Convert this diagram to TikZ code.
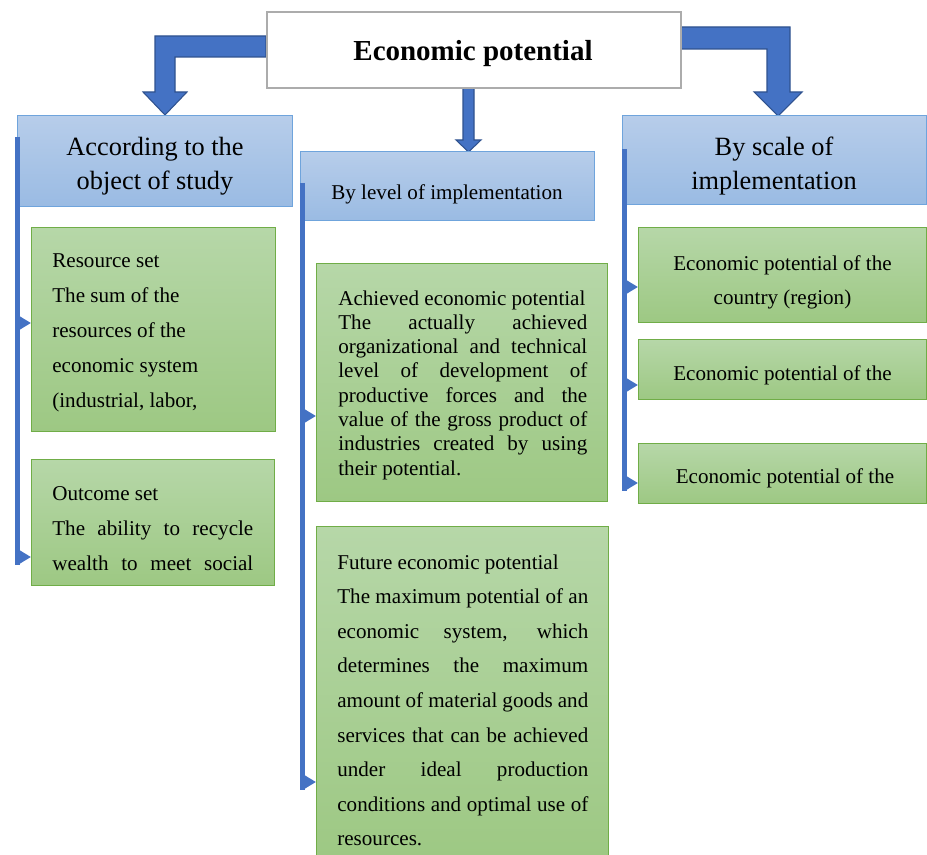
\documentclass[tikz,border=0pt]{standalone}
\usepackage{fontspec}
\setmainfont{Liberation Serif}
\usetikzlibrary{arrows.meta}

\definecolor{busblue}{HTML}{4472C4}
\definecolor{arrowedge}{HTML}{2F528F}
\definecolor{hdrtop}{HTML}{B7CDEA}
\definecolor{hdrbot}{HTML}{9ABBE3}
\definecolor{hdredge}{HTML}{6FA4DC}
\definecolor{grntop}{HTML}{B6D7A8}
\definecolor{grnbot}{HTML}{9DC883}
\definecolor{grnedge}{HTML}{70AD47}

% one stretched line of a justified paragraph, and one plain line
% (the font's own interword glue, not the fixed one of align=left)
\newcommand{\jline}[2]{\makebox[#1][s]{\spaceskip=0pt\xspaceskip=0pt #2}}
\newcommand{\pline}[1]{\mbox{\spaceskip=0pt\xspaceskip=0pt #1}}

\begin{document}
\begin{tikzpicture}[x=0.02cm, y=-0.02cm,
    wh/.style 2 args={minimum width=#1*0.02cm, minimum height=#2*0.02cm},
    hdr/.style={draw=hdredge, line width=0.6pt, top color=hdrtop, bottom color=hdrbot, anchor=north west, inner sep=0pt},
    grn/.style={draw=grnedge, line width=0.8pt, top color=grntop, bottom color=grnbot, anchor=north west, inner sep=0pt},
    body/.style={anchor=base west, inner sep=0pt, align=left},
    mid/.style={anchor=base, inner sep=0pt, align=center, text width=6cm},
    bus/.style={line width=0.1cm, draw=busblue},
    tip/.style={-{Triangle[length=0.25cm, width=0.28cm]}},
    blockarrow/.style={fill=busblue, draw=arrowedge, line width=0.6pt, line join=miter}]
  \useasboundingbox (0,0) rectangle (927,855);

  %% block arrows from the top box
  \filldraw[blockarrow] (266,36) -- (155,36) -- (155,92) -- (143,92) -- (165,115) -- (187,92) -- (175,92) -- (175,57) -- (266,57) -- cycle;
  \filldraw[blockarrow] (680,27) -- (790,27) -- (790,92) -- (802,92) -- (778,116) -- (754,92) -- (767,92) -- (767,49) -- (680,49) -- cycle;
  \filldraw[blockarrow] (463,87) -- (474,87) -- (474,140) -- (481,140) -- (468.5,152) -- (456,140) -- (463,140) -- cycle;

  %% top box
  \node[draw=gray!65, line width=1.4pt, fill=white, anchor=north west, wh={414}{76}] (ep) at (266,11) {};
  \node[font=\fontsize{16.5}{20}\selectfont\bfseries, anchor=base] (epT) at (473,61) {Economic potential};

  %% headers
  \node[hdr, wh={275}{91}] (obj) at (17,115) {};
  \node[mid, font=\fontsize{15}{19.8}\selectfont] (objT) at (155,155) {\pline{According to the}\\\pline{object of study}};
  \node[hdr, wh={294}{69}] (lvl) at (300,151) {};
  \node[font=\fontsize{12}{14}\selectfont, anchor=base] (lvlT) at (447,199) {By level of implementation};
  \node[hdr, wh={304}{89}] (scl) at (622,115) {};
  \node[mid, font=\fontsize{15}{19.8}\selectfont] (sclT) at (774,155) {\pline{By scale of}\\\pline{implementation}};

  %% left column
  \node[grn, wh={244}{204}] (res) at (31,227) {};
  \node[body, text width=4.02cm, font=\fontsize{12}{20}\selectfont] (resT) at (52,267)
    {\pline{Resource set}\\\pline{The sum of the}\\\pline{resources of the}\\\pline{economic system}\\\pline{(industrial, labor,}};
  \node[grn, wh={243}{126}] (out) at (31,459) {};
  \node[body, text width=4.02cm, font=\fontsize{12}{20}\selectfont] (outT) at (52,500)
    {\pline{Outcome set}\\\jline{4.02cm}{The ability to recycle}\\\jline{4.02cm}{wealth to meet social}};

  %% middle column
  \node[grn, wh={291}{238}] (ach) at (316,263) {};
  \node[body, text width=4.98cm, font=\fontsize{12}{13.83}\selectfont] (achT) at (338,305)
    {\pline{Achieved economic potential}\\\jline{4.98cm}{The actually achieved}\\\jline{4.98cm}{organizational and technical}\\
     \jline{4.98cm}{level of development of}\\\jline{4.98cm}{productive forces and the}\\\jline{4.98cm}{value of the gross product of}\\
     \jline{4.98cm}{industries created by using}\\\pline{their potential.}};
  \node[grn, wh={292}{335}] (fut) at (316,526) {};
  \node[body, text width=5.02cm, font=\fontsize{12}{19.67}\selectfont] (futT) at (337,569.3)
    {\pline{Future economic potential}\\\jline{5.02cm}{The maximum potential of an}\\\jline{5.02cm}{economic system, which}\\
     \jline{5.02cm}{determines the maximum}\\\jline{5.02cm}{amount of material goods and}\\\jline{5.02cm}{services that can be achieved}\\
     \jline{5.02cm}{under ideal production}\\\jline{5.02cm}{conditions and optimal use of}\\\pline{resources.}};

  %% right column
  \node[grn, wh={288}{95}] (sc1) at (638,227) {};
  \node[mid, font=\fontsize{12}{19.8}\selectfont] (sc1T) at (782.5,270) {\pline{Economic potential of the}\\\pline{country (region)}};
  \node[grn, wh={288}{60}] (sc2) at (638,339) {};
  \node[font=\fontsize{12}{14}\selectfont, anchor=base] (sc2T) at (782.5,380) {Economic potential of the};
  \node[grn, wh={288}{60}] (sc3) at (638,443) {};
  \node[font=\fontsize{12}{14}\selectfont, anchor=base] (sc3T) at (785,483) {Economic potential of the};

  %% buses
  \coordinate (busL) at (17.5,137);
  \draw[bus] (busL) -- (busL |- 0,565);
  \draw[bus,tip] (busL |- 0,323) -- (res.west |- 0,323);
  \draw[bus,tip] (busL |- 0,557) -- (out.west |- 0,557);

  \coordinate (busM) at (302.5,183);
  \draw[bus] (busM) -- (busM |- 0,790);
  \draw[bus,tip] (busM |- 0,416) -- (ach.west |- 0,416);
  \draw[bus,tip] (busM |- 0,782) -- (fut.west |- 0,782);

  \coordinate (busR) at (624.5,149);
  \draw[bus] (busR) -- (busR |- 0,491);
  \draw[bus,tip] (busR |- 0,287) -- (sc1.west |- 0,287);
  \draw[bus,tip] (busR |- 0,385) -- (sc2.west |- 0,385);
  \draw[bus,tip] (busR |- 0,483) -- (sc3.west |- 0,483);
\end{tikzpicture}
\end{document}
